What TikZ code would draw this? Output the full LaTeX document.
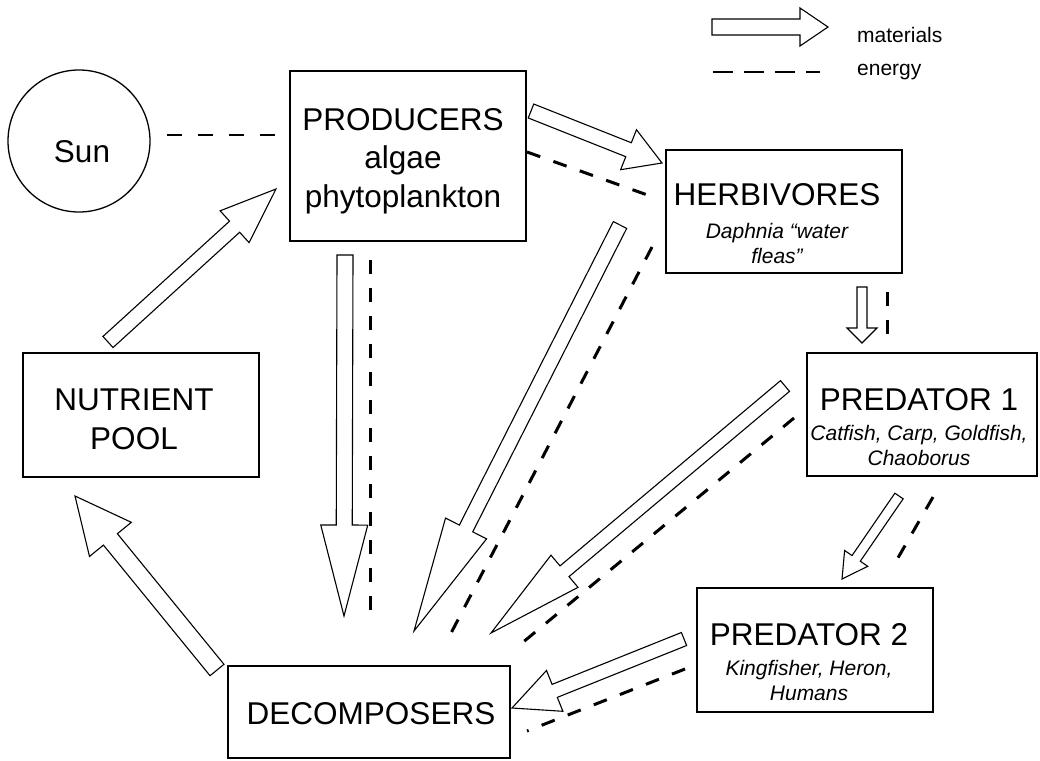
\documentclass[tikz,border=0pt]{standalone}
\usepackage{fontspec}
\setmainfont{Liberation Sans}
\usetikzlibrary{calc}
\newcommand{\bigsz}{\fontsize{31.5}{38.5}\selectfont}
\newcommand{\smallsz}{\fontsize{21}{25}\selectfont}
\newcommand{\sub}{\smallsz\itshape}
% hollow block arrow: tail, tip, half shaft, half head, head length
\newcommand{\matarrow}[5]{%
  \coordinate (mh) at ($(#2)!#5!(#1)$);
  \draw[matline] ($(#1)!#3!90:(#2)$) -- ($(mh)!#3!90:(#2)$) -- ($(mh)!#4!90:(#2)$)
    -- (#2) -- ($(mh)!#4!-90:(#2)$) -- ($(mh)!#3!-90:(#2)$) -- ($(#1)!#3!-90:(#2)$) -- cycle;}
\tikzset{
  box/.style={draw, line width=1.3pt, inner sep=0pt},
  lbl/.style={font=\bigsz, align=center, anchor=base, inner sep=0pt},
  leglbl/.style={font=\smallsz, anchor=base west, inner sep=0pt},
  matline/.style={line width=1.1pt, line join=miter},
  enline/.style={line width=3pt, dash pattern=on 14pt off 14pt},
  thinen/.style={line width=1.2pt, dash pattern=on 15pt off 16pt},
  legen/.style={line width=1.2pt, dash pattern=on 20pt off 11pt},
}
\begin{document}
\begin{tikzpicture}[x=1pt,y=-1pt]
\useasboundingbox (0,0) rectangle (1040,760);
\node[box, circle, minimum size=142pt] (sun) at (79,141) {};
\node[box, minimum width=236pt, minimum height=170pt] (prod) at (408,156) {};
\node[box, minimum width=236pt, minimum height=123pt] (herb) at (784,211.5) {};
\node[box, minimum width=230pt, minimum height=123pt] (pred1) at (922,414.5) {};
\node[box, minimum width=236pt, minimum height=124pt] (pred2) at (815,650) {};
\node[box, minimum width=282pt, minimum height=92pt] (dec) at (369,712) {};
\node[box, minimum width=236pt, minimum height=124pt] (pool) at (141,415) {};

% base anchor = last line
\node[lbl] (suntxt) at (82,162) {Sun};
\node[lbl] (prodtxt) at (403,207) {PRODUCERS\\algae\\phytoplankton};
\node[lbl] (herbtxt) at (777,263) {HERBIVORES\\[-5.5pt]\sub Daphnia “water\\[-13.5pt]\sub fleas”};
\node[lbl] (pred1txt) at (919,465) {PREDATOR 1\\[-8.5pt]\sub Catfish, Carp, Goldfish,\\[-13.5pt]\sub Chaoborus};
\node[lbl] (pred2txt) at (809,700) {PREDATOR 2\\[-8.5pt]\sub Kingfisher, Heron,\\[-13.5pt]\sub Humans};
\node[lbl] (pooltxt) at (134,449) {NUTRIENT\\POOL};
\node[lbl] (dectxt) at (371,724) {DECOMPOSERS};

% legend
\coordinate (legm1) at (712,27);  \coordinate (legm2) at (828,27);
\coordinate (lege1) at (713,72);  \coordinate (lege2) at (820,72);
\matarrow{legm1}{legm2}{8pt}{19pt}{28pt}
\draw[legen] (lege1) -- (lege2);
\node[leglbl] (legmat) at (857,42) {materials};
\node[leglbl] (legeng) at (857,75) {energy};

% materials
\coordinate (poolup) at (108,342);    \coordinate (prodin) at (276,189);
\coordinate (prodright) at (531,111); \coordinate (herbin) at (662,163);
\coordinate (proddown) at (345,255);  \coordinate (decin1) at (344,616);
\coordinate (herbdown) at (620,225);  \coordinate (decin2) at (414,631);
\coordinate (herbout) at (862,287);   \coordinate (pred1in) at (862,343);
\coordinate (pred1down) at (785,386); \coordinate (decin3) at (491,633);
\coordinate (pred1out) at (899,496);  \coordinate (pred2in) at (842,579);
\coordinate (pred2out) at (684,639);  \coordinate (decin4) at (512,708);
\coordinate (decout) at (217,670);    \coordinate (poolin) at (75,496);
\foreach \s/\e/\w/\hw/\hl in {poolup/prodin/7.5/21.5/56, prodright/herbin/7.5/21.5/36,
    proddown/decin1/8/23.5/91, herbdown/decin2/7.5/23/115, herbout/pred1in/5/15/15,
    pred1down/decin3/7/21/96, pred1out/pred2in/5/14/25, pred2out/decin4/7/22/46,
    decout/poolin/9/27/56}
  {\matarrow{\s}{\e}{\w pt}{\hw pt}{\hl pt}}

% energy
\coordinate (sunout) at (167,135);  \coordinate (prodsun) at (276,135);
\coordinate (en1a) at (527,152); \coordinate (en1b) at (653,197);
\coordinate (en2a) at (370,260); \coordinate (en2b) at (370,618);
\coordinate (en3a) at (652,247); \coordinate (en3b) at (449,637);
\coordinate (en4a) at (887,292); \coordinate (en4b) at (887,337);
\coordinate (en5a) at (794,418); \coordinate (en5b) at (516,648);
\coordinate (en6a) at (933,497); \coordinate (en6b) at (895,563);
\coordinate (en7a) at (685,669); \coordinate (en7b) at (527,731);
\draw[thinen] (sunout) -- (prodsun);
\foreach \s/\e in {en1a/en1b, en2a/en2b, en3a/en3b, en4a/en4b, en5a/en5b, en6a/en6b, en7a/en7b}
  \draw[enline] (\s) -- (\e);
\end{tikzpicture}
\end{document}
